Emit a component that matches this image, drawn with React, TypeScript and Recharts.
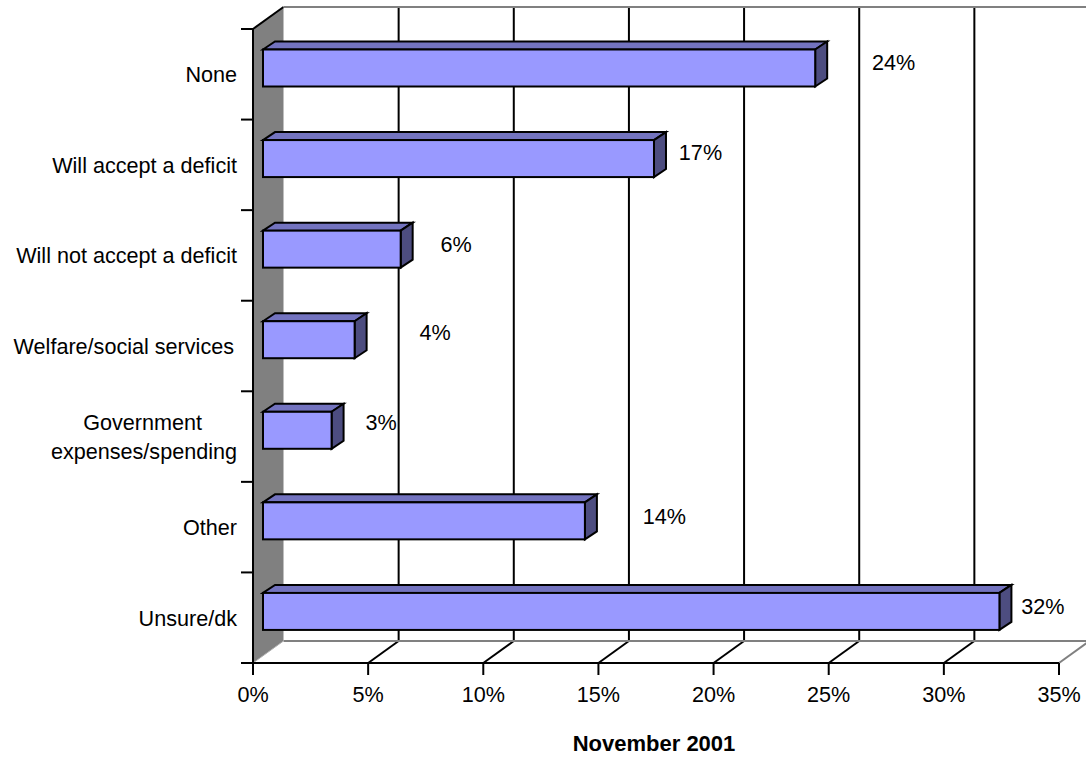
import React from "react";
import { BarChart, Bar, XAxis, YAxis, CartesianGrid, ReferenceArea, LabelList } from "recharts";

const categories = ["None", "Will accept a deficit", "Will not accept a deficit", "Welfare/social services", "Government expenses/spending", "Other", "Unsure/dk"];
const values = [24, 17, 6, 4, 3, 14, 32];
const xTicks = [0, 5, 10, 15, 20, 25, 30, 35];
const axisTitle = "November 2001";
const data = categories.map((name, i) => ({ name, value: values[i] }));

// layout constants
const FONT = "'Liberation Sans', Arial, sans-serif";
const FS = 21.6;
const W = 1086, H = 757;
const DX = 30.5, DY = 22;
const labelNudge = [[78, -12], [46, -13], [55, -11], [80, -14], [49, -14], [79, -11], [43, -11]];

const Wall = (p: any) => {
  const { x, y, width, height } = p;
  const r = x + width, b = y + height;
  return (
    <g>
      <polygon points={`${x},${y} ${x + DX},${y - DY} ${x + DX},${b - DY} ${x},${b}`} fill="#808080" />
      <line x1={x} y1={y} x2={x + DX} y2={y - DY} stroke="#000" strokeWidth={2} />
      <line x1={x + DX} y1={y - DY} x2={W} y2={y - DY} stroke="#808080" strokeWidth={2} />
      <line x1={x + DX} y1={b - DY} x2={W} y2={b - DY} stroke="#808080" strokeWidth={2} />
      <line x1={x} y1={b} x2={x + DX} y2={b - DY} stroke="#b0b0b0" strokeWidth={1} />
      <line x1={r} y1={b} x2={r + DX} y2={b - DY} stroke="#808080" strokeWidth={2} />
    </g>
  );
};

const GridLine = (p: any) => {
  const { x1, y1, y2, index } = p;
  if (index === 0 || index === xTicks.length - 1) return <g key={p.key ?? index} />;
  const top = Math.min(y1, y2), bot = Math.max(y1, y2);
  return (
    <g key={p.key ?? index}>
      <line x1={x1 + DX} y1={top - DY} x2={x1 + DX} y2={bot - DY} stroke="#000" strokeWidth={2} />
      <line x1={x1} y1={bot} x2={x1 + DX} y2={bot - DY} stroke="#000" strokeWidth={2} />
    </g>
  );
};

const Bar3D = (p: any) => {
  const dx = 12, dy = 8;
  const x = p.x + 10, y = p.y - 6.5, w = p.width - 0.5, h = p.height;
  const r = x + w, b = y + h;
  return (
    <g stroke="#000" strokeWidth={2} strokeLinejoin="miter">
      <polygon points={`${x},${y} ${x + dx},${y - dy} ${r + dx},${y - dy} ${r},${y}`} fill="#7373BF" />
      <polygon points={`${r},${y} ${r + dx},${y - dy} ${r + dx},${b - dy} ${r},${b}`} fill="#4D4D80" />
      <rect x={x} y={y} width={w} height={h} fill="#9999FF" />
    </g>
  );
};

const BarLabel = (p: any) => {
  const { x, y, width, height, index, value } = p;
  const [nx, ny] = labelNudge[index];
  return (
    <text x={x + width + 10 + nx} y={y + height / 2 + ny} textAnchor="middle" dominantBaseline="central" fontFamily={FONT} fontSize={FS} fill="#000">
      {`${value}%`}
    </text>
  );
};

const CategoryTick = (p: any) => {
  const { y, payload, index } = p;
  const band = 634 / categories.length;
  const axisX = 253;
  const isLast = index === categories.length - 1;
  const common = { fontFamily: FONT, fontSize: FS, fill: "#000" };
  let label;
  if (payload.value.startsWith("Government")) {
    label = (
      <text textAnchor="end" {...common}>
        <tspan x={202} y={y - 7}>Government</tspan>
        <tspan x={237} y={y + 22}>expenses/spending</tspan>
      </text>
    );
  } else {
    const right = payload.value.startsWith("Welfare") ? 234 : 237;
    label = <text x={right} y={y + 8} textAnchor="end" {...common}>{payload.value}</text>;
  }
  return (
    <g>
      <line x1={axisX - 12} x2={axisX} y1={y - band / 2} y2={y - band / 2} stroke="#000" strokeWidth={2} />
      {isLast && <line x1={axisX - 12} x2={axisX} y1={y + band / 2} y2={y + band / 2} stroke="#000" strokeWidth={2} />}
      {label}
    </g>
  );
};

export default function App() {
  return (
    <div style={{ position: "absolute", left: 0, top: 0, width: W, height: H, background: "#fff", overflow: "hidden" }}>
      <BarChart width={W} height={H} data={data} layout="vertical" barSize={37} margin={{ top: 29, right: 27, bottom: 0, left: 0 }}>
        <ReferenceArea x1={0} x2={35} shape={Wall} ifOverflow="visible" />
        <CartesianGrid horizontal={false} vertical={GridLine as any} />
        <XAxis
          type="number"
          domain={[0, 35]}
          ticks={xTicks}
          interval={0}
          height={94}
          tickFormatter={(v: number) => `${v}%`}
          tickSize={12}
          tickMargin={12}
          tickLine={{ stroke: "#000", strokeWidth: 2 }}
          axisLine={{ stroke: "#000", strokeWidth: 2 }}
          tick={{ fontFamily: FONT, fontSize: FS, fill: "#000" }}
          label={(lp: any) => (
            <text x={654} y={751} textAnchor="middle" fontFamily={FONT} fontSize={22} fontWeight="bold" fill="#000">{axisTitle}</text>
          )}
        />
        <YAxis
          type="category"
          dataKey="name"
          width={253}
          interval={0}
          tickLine={false}
          axisLine={{ stroke: "#000", strokeWidth: 2 }}
          tick={CategoryTick as any}
        />
        <Bar dataKey="value" isAnimationActive={false} shape={Bar3D as any}>
          <LabelList dataKey="value" content={BarLabel as any} />
        </Bar>
      </BarChart>
    </div>
  );
}
